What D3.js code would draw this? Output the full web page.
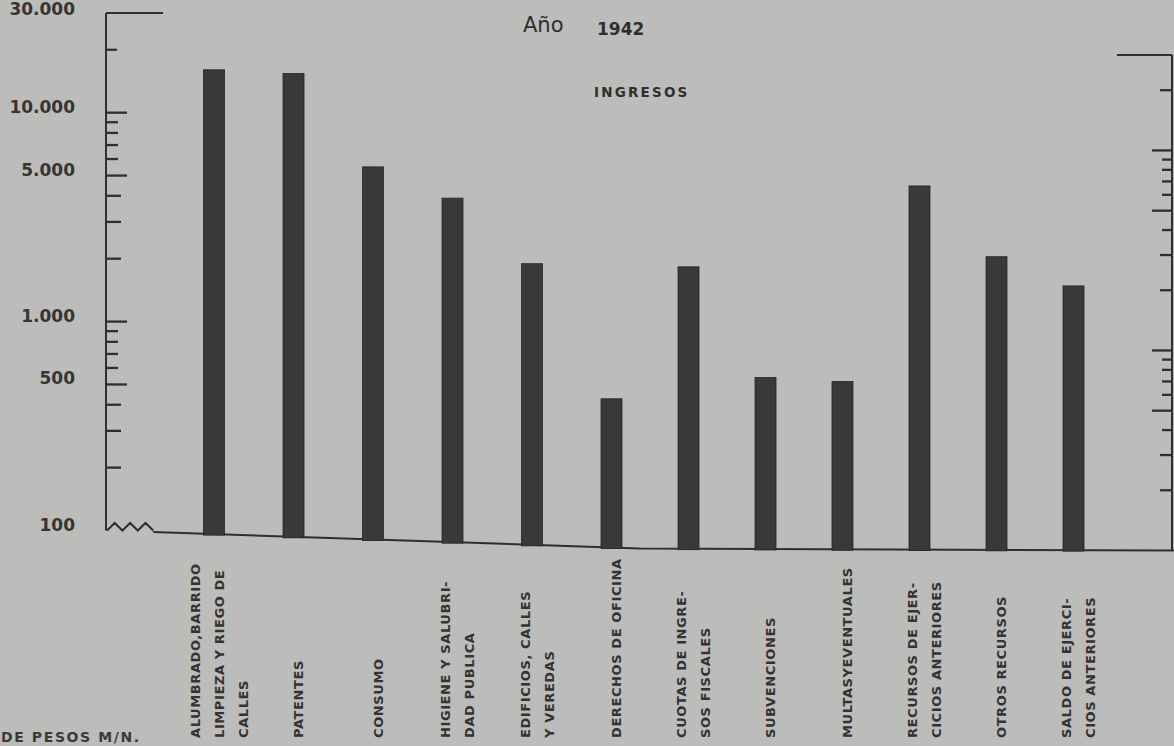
<!DOCTYPE html>
<html><head><meta charset="utf-8">
<script src="https://cdn.jsdelivr.net/npm/d3@7"></script>
<style>html,body{margin:0;padding:0;background:#bcbcba;overflow:hidden}svg{display:block}</style>
</head><body><svg id="chart" width="1174" height="746"></svg>
<script>
// ---- data ----
const labelLines = [
  ["ALUMBRADO,BARRIDO", "LIMPIEZA Y RIEGO DE", "CALLES"],
  ["PATENTES"],
  ["CONSUMO"],
  ["HIGIENE Y SALUBRI-", "DAD PUBLICA"],
  ["EDIFICIOS, CALLES", "Y VEREDAS"],
  ["DERECHOS DE OFICINA"],
  ["CUOTAS DE INGRE-", "SOS FISCALES"],
  ["SUBVENCIONES"],
  ["MULTASYEVENTUALES"],
  ["RECURSOS DE EJER-", "CICIOS ANTERIORES"],
  ["OTROS RECURSOS"],
  ["SALDO DE EJERCI-", "CIOS ANTERIORES"]
];
const categories = labelLines.map(l => l.join(" "));
const values = [16800, 16700, 6150, 4500, 2250, 520, 2300, 680, 660, 6100, 2800, 2050];
const tickValues = [200, 300, 400, 500, 600, 700, 800, 900, 1000, 2000, 3000, 4000, 5000, 6000, 7000, 8000, 9000, 10000, 20000];
const tickLabelValues = [100, 500, 1000, 5000, 10000, 30000];
const tickLabels = ["100", "500", "1.000", "5.000", "10.000", "30.000"];
const titleYear = "1942";
const titleWord = "Año";
const subtitle = "INGRESOS";
const unitsText = "DE PESOS M/N.";

// ---- layout ----
const svg = d3.select("#chart");
const ink = "#2f2f2f";
const leftX = 106, rightX = 1172;
// photographed sheet is slightly tilted / in perspective: baseline and top vary with x
const baseAt = d3.scaleLinear().domain([leftX, 640, rightX]).range([530.5, 548.5, 550.5]);
const topAt = d3.scaleLinear().domain([leftX, rightX]).range([13, 55]);
const yAt = x => d3.scaleLog().domain([100, 30000]).range([baseAt(x), topAt(x)]);
const xPos = d3.scaleLinear().domain([0, 5, categories.length - 1]).range([214, 611.5, 1073.5]);
const barW = 21;

const yLeft = yAt(leftX), yRight = yAt(rightX);
const mant = v => Math.round(v / Math.pow(10, Math.floor(Math.log10(v))));

// left axis
const gL = svg.append("g").attr("stroke", ink).attr("stroke-width", 2).attr("fill", "none");
gL.append("line").attr("x1", leftX).attr("x2", leftX).attr("y1", yLeft(30000)).attr("y2", yLeft(100));
gL.append("line").attr("x1", leftX).attr("x2", leftX + 57).attr("y1", yLeft(30000)).attr("y2", yLeft(30000));
const lenL = v => v === 20000 ? 11 : (mant(v) === 1 || mant(v) === 5) ? 21 : (mant(v) <= 4 ? 15 : 12);
gL.selectAll("line.t").data(tickValues).join("line").attr("class", "t")
  .attr("x1", leftX).attr("x2", v => leftX + lenL(v))
  .attr("y1", v => yLeft(v)).attr("y2", v => yLeft(v)).attr("stroke-width", 2.3);

// zigzag break
const zz = d3.range(0, 7).map(i => [leftX + 1 + i * 7.7, yLeft(100) - (i % 2 ? 7.5 : 0)]);
gL.append("path").attr("d", d3.line()(zz));
// baseline
const bx = [zz[6][0], 640, 1174];
gL.append("path").attr("d", d3.line()(bx.map(x => [x, baseAt(x)])));

// right axis
const gR = svg.append("g").attr("stroke", ink).attr("stroke-width", 2).attr("fill", "none");
gR.append("line").attr("x1", rightX).attr("x2", rightX).attr("y1", yRight(30000)).attr("y2", yRight(100));
gR.append("line").attr("x1", rightX).attr("x2", rightX - 55).attr("y1", yRight(30000)).attr("y2", yRight(30000));
const lenR = v => v === 20000 ? 12 : (mant(v) === 1 || mant(v) === 5) ? 20 : (mant(v) <= 3 ? 12 : 10);
gR.selectAll("line.t").data(tickValues).join("line").attr("class", "t")
  .attr("x1", rightX).attr("x2", v => rightX - lenR(v))
  .attr("y1", v => yRight(v)).attr("y2", v => yRight(v)).attr("stroke-width", 2.3);

// tick labels
svg.append("g").selectAll("text").data(tickLabelValues).join("text")
  .attr("x", 75).attr("y", v => Math.max(yLeft(v) - 6, 9))
  .attr("text-anchor", "end").attr("dominant-baseline", "central")
  .attr("font-family", "DejaVu Sans").attr("font-weight", "bold").attr("font-size", 17)
  .attr("fill", "#353535")
  .text((v, i) => tickLabels[i]);

// bars
svg.append("g").selectAll("rect").data(values).join("rect")
  .attr("x", (v, i) => xPos(i) - barW / 2)
  .attr("width", barW)
  .attr("y", (v, i) => yAt(xPos(i))(v))
  .attr("height", (v, i) => baseAt(xPos(i)) - yAt(xPos(i))(v) + 1)
  .attr("fill", "#393939").attr("stroke", "#252525").attr("stroke-width", 0.8);

// category labels (rotated)
const lab = svg.append("g").attr("font-family", "DejaVu Sans").attr("font-size", 13)
  .attr("font-weight", "bold").attr("letter-spacing", 0.6).attr("fill", "#333");
labelLines.forEach((lines, i) => {
  const n = lines.length;
  lines.forEach((t, j) => {
    const cx = xPos(i) + 5 + (j - (n - 1) / 2) * 24;
    lab.append("text").attr("transform", `translate(${cx},738) rotate(-90)`)
      .attr("dominant-baseline", "central").attr("text-anchor", "start").text(t);
  });
});

// titles
svg.append("text").attr("x", 523).attr("y", 32).attr("font-family", "DejaVu Sans")
  .attr("font-size", 21).attr("fill", ink).text(titleWord);
svg.append("text").attr("x", 597).attr("y", 35).attr("font-family", "DejaVu Sans")
  .attr("font-weight", "bold").attr("font-size", 17).attr("fill", ink).text(titleYear);
svg.append("text").attr("x", 594).attr("y", 97).attr("font-family", "DejaVu Sans")
  .attr("font-weight", "bold").attr("font-size", 13.5).attr("letter-spacing", 2.2)
  .attr("fill", ink).text(subtitle);
svg.append("text").attr("x", 1).attr("y", 742).attr("font-family", "DejaVu Sans")
  .attr("font-weight", "bold").attr("font-size", 14).attr("letter-spacing", 1.6)
  .attr("fill", "#3a3a3a").text(unitsText);
</script></body></html>
